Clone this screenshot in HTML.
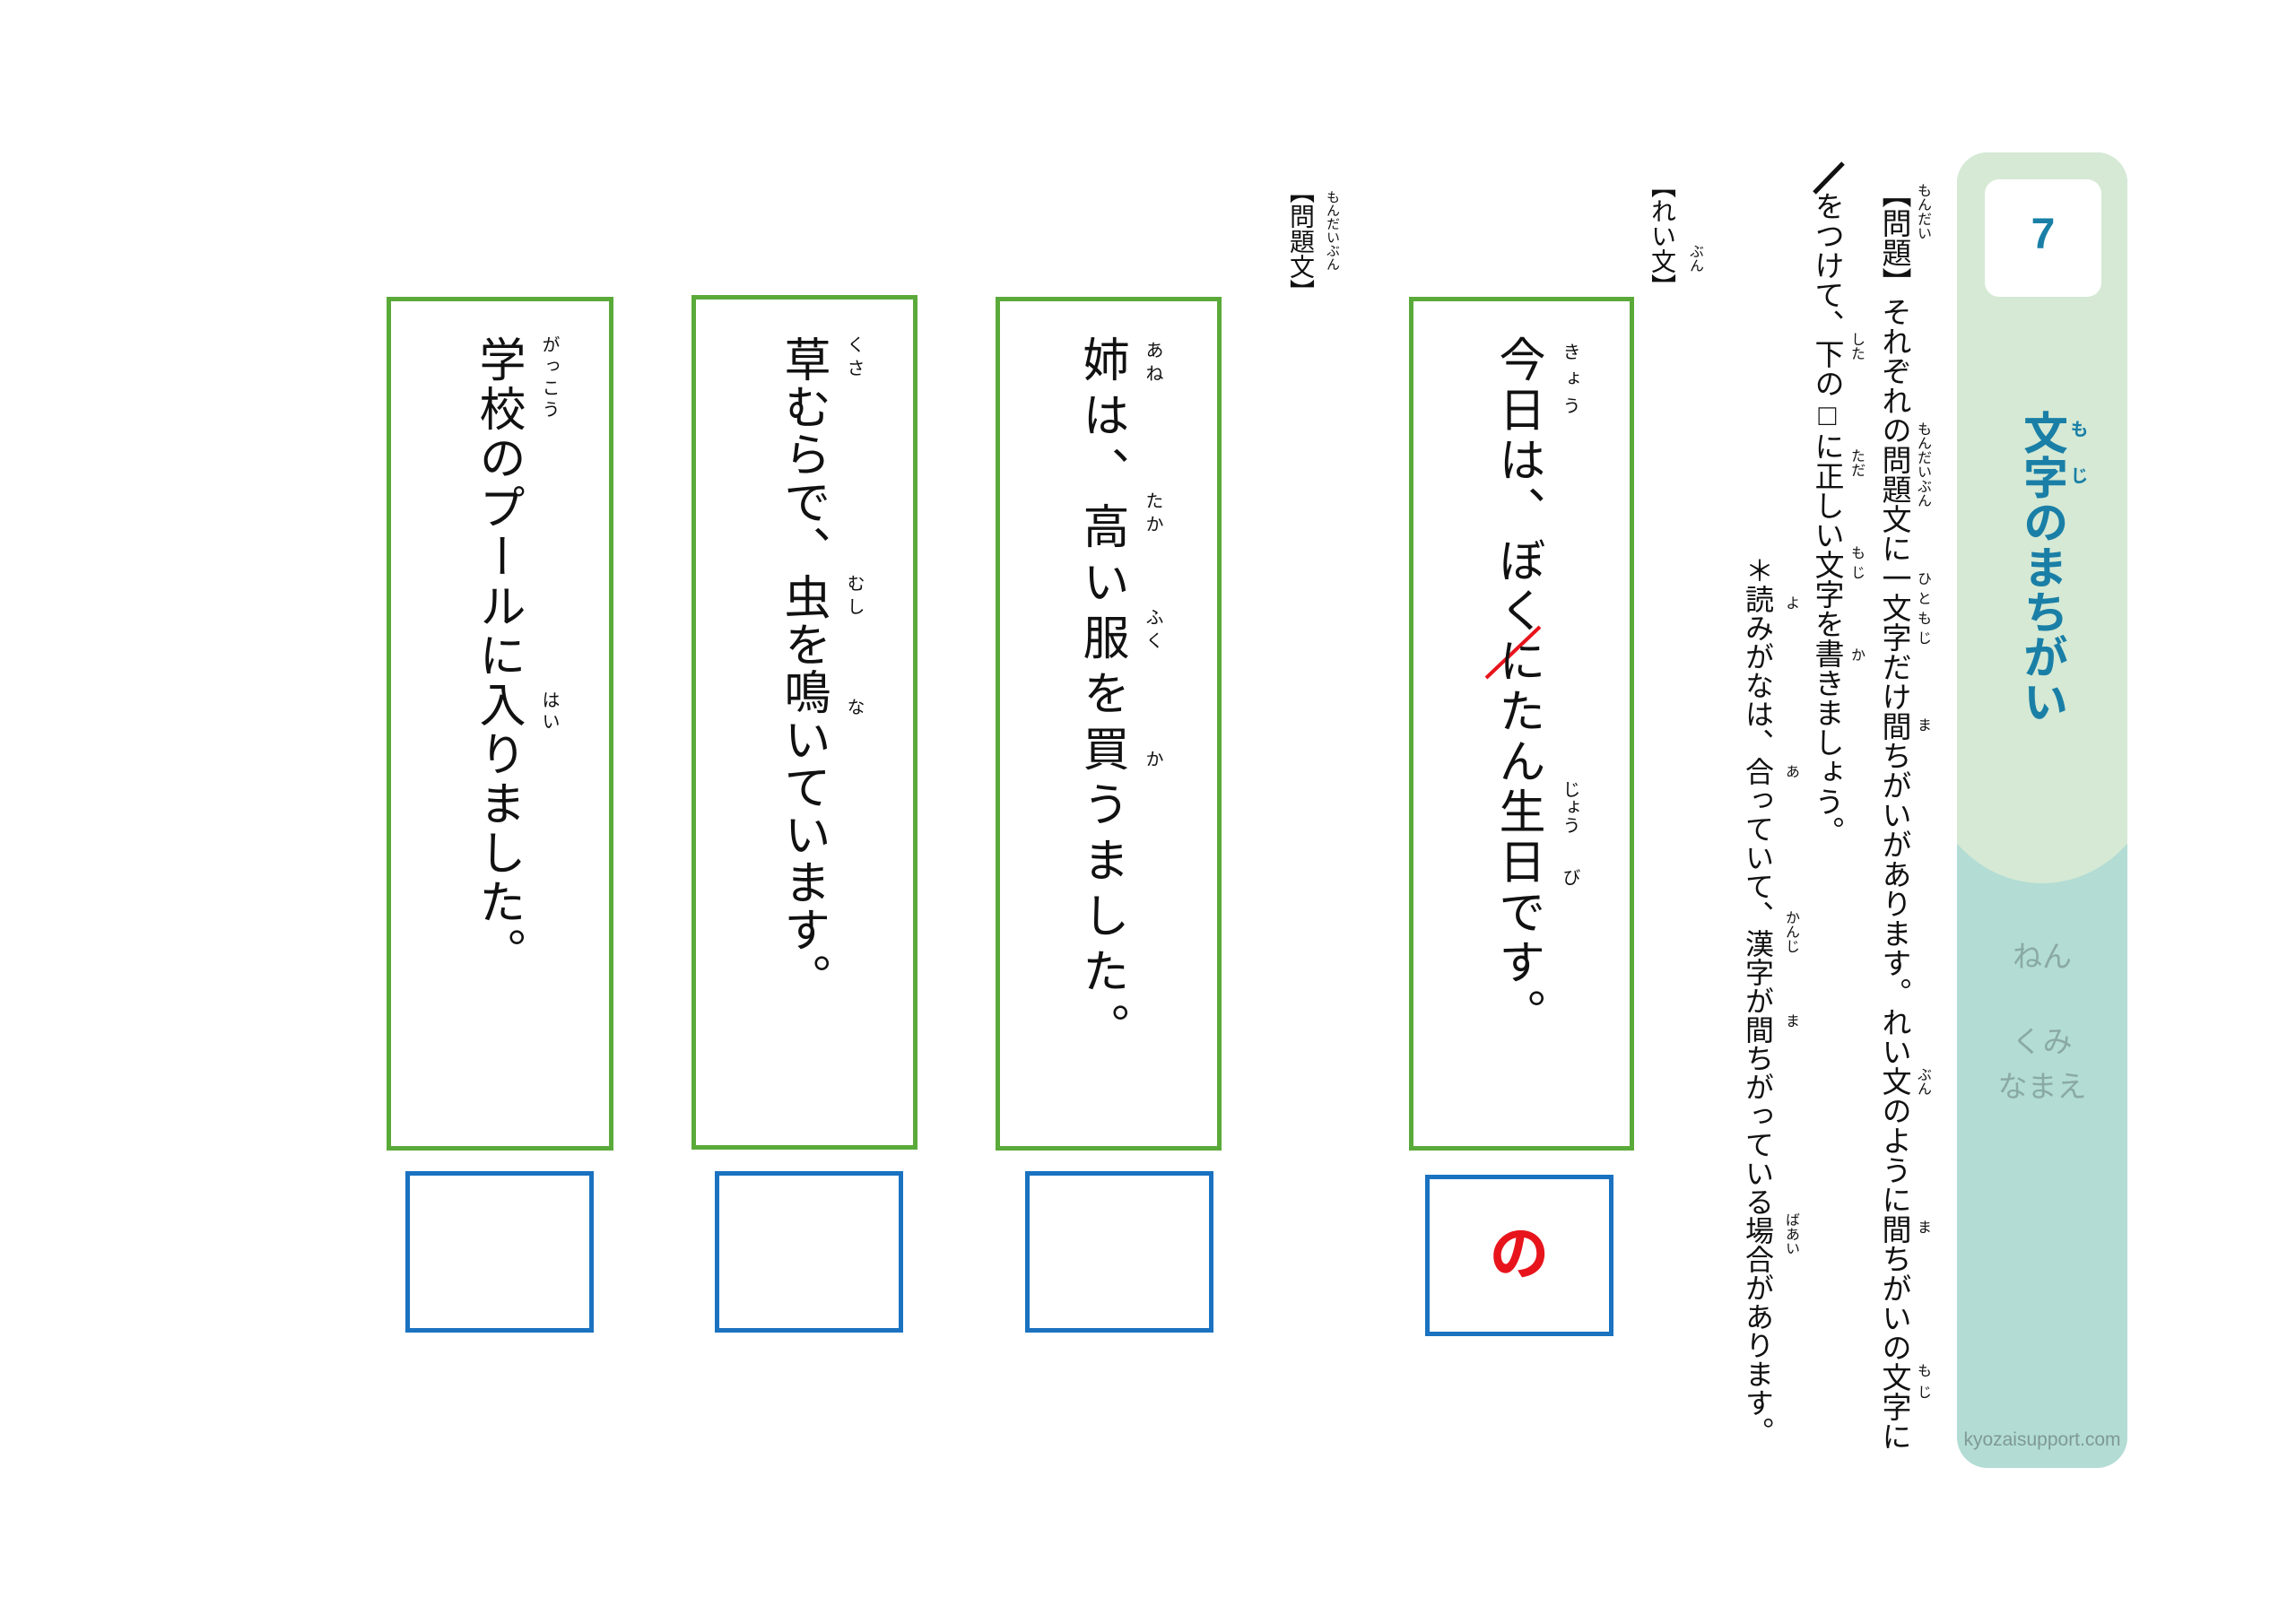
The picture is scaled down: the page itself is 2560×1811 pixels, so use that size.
<!DOCTYPE html>
<html><head><meta charset="utf-8">
<style>
html,body{margin:0;padding:0;background:#fff;}
body{width:2560px;height:1811px;position:relative;overflow:hidden;font-family:"Liberation Sans","Noto Sans CJK JP",sans-serif;color:#111;}
.v{position:absolute;writing-mode:vertical-rl;white-space:nowrap;line-height:1;}
.f{font-size:18px;}
.g{position:absolute;border:5px solid #5aaa3a;box-sizing:border-box;}
.b{position:absolute;border:5px solid #1a72c0;box-sizing:border-box;}
</style></head><body>

<div style="position:absolute;left:2182px;top:170px;width:190px;height:1467px;border-radius:34px;background:#b2dcd4;overflow:hidden;">
  <div style="position:absolute;left:-35px;top:-300px;width:260px;height:1115px;background:#d5e9d5;border-radius:0 0 50% 50% / 0 0 140px 140px;"></div>
  <div style="position:absolute;left:31px;top:30px;width:130px;height:131px;background:#fff;border-radius:16px;"></div>
  <div style="position:absolute;left:31px;top:68px;width:130px;text-align:center;font-size:48px;font-weight:bold;color:#1a7fa6;line-height:1;">7</div>
  <div class="v" style="left:70px;top:287px;font-size:50px;font-weight:bold;color:#1a7fa6;">文字のまちがい</div>
  <div class="v" style="left:124px;top:298px;font-size:20px;font-weight:bold;color:#1a7fa6;letter-spacing:32px;">もじ</div>
  <div style="position:absolute;left:0;width:190px;top:880px;text-align:center;font-size:33px;color:#8aa9a5;line-height:1;">ねん</div>
  <div style="position:absolute;left:0;width:190px;top:975px;text-align:center;font-size:33px;color:#8aa9a5;line-height:1;">くみ</div>
  <div style="position:absolute;left:0;width:190px;top:1025px;text-align:center;font-size:33px;color:#8aa9a5;line-height:1;">なまえ</div>
  <div style="position:absolute;left:0;width:190px;top:1425px;text-align:center;font-size:21px;color:#7f9996;line-height:1;">kyozaisupport.com</div>
</div>

<div class="v" style="left:2096px;top:199px;font-size:33px;">【問題】それぞれの問題文に一文字だけ間ちがいがあります。れい文のように間ちがいの文字に</div>
<div class="v f" style="left:2135px;top:204px;font-size:16px;">もんだい</div>
<div class="v f" style="left:2135px;top:470px;font-size:16px;">もんだいぶん</div>
<div class="v f" style="left:2135px;top:637px;font-size:16px;letter-spacing:6px;">ひともじ</div>
<div class="v f" style="left:2135px;top:800px;font-size:16px;">ま</div>
<div class="v f" style="left:2135px;top:1190px;font-size:16px;">ぶん</div>
<div class="v f" style="left:2135px;top:1360px;font-size:16px;">ま</div>
<div class="v f" style="left:2135px;top:1520px;font-size:16px;letter-spacing:8px;">もじ</div>

<svg style="position:absolute;left:0;top:0" width="2560" height="1811">
  <line x1="2023" y1="215" x2="2055" y2="182" stroke="#111" stroke-width="5"/>
  <line x1="1657" y1="756" x2="1717" y2="699" stroke="#e8141c" stroke-width="4"/>
</svg>
<div class="v" style="left:2021px;top:213px;font-size:33px;">をつけて、下の□に正しい文字を書きましょう。</div>
<div class="v" style="left:2061px;top:370px;font-size:16px;">した</div>
<div class="v" style="left:2061px;top:500px;font-size:16px;">ただ</div>
<div class="v" style="left:2061px;top:608px;font-size:16px;letter-spacing:6px;">もじ</div>
<div class="v" style="left:2061px;top:722px;font-size:16px;">か</div>

<div class="v" style="left:1944px;top:620px;font-size:32px;">＊読みがなは、合っていて、漢字が間ちがっている場合があります。</div>
<div class="v" style="left:1988px;top:664px;font-size:16px;">よ</div>
<div class="v" style="left:1988px;top:852px;font-size:16px;">あ</div>
<div class="v" style="left:1988px;top:1015px;font-size:16px;">かんじ</div>
<div class="v" style="left:1988px;top:1130px;font-size:16px;">ま</div>
<div class="v" style="left:1988px;top:1352px;font-size:16px;">ばあい</div>

<div class="v" style="left:1839px;top:193px;font-size:28px;">【れい文】</div>
<div class="v" style="left:1881px;top:272px;font-size:16px;">ぶん</div>
<div class="v" style="left:1436px;top:199px;font-size:28px;">【問題文】</div>
<div class="v" style="left:1478px;top:212px;font-size:15px;">もんだいぶん</div>

<div class="g" style="left:1571px;top:331px;width:251px;height:952px;"></div>
<div class="g" style="left:1110px;top:331px;width:252px;height:952px;"></div>
<div class="g" style="left:771px;top:329px;width:252px;height:953px;"></div>
<div class="g" style="left:431px;top:331px;width:253px;height:952px;"></div>

<div class="b" style="left:1589px;top:1310px;width:210px;height:180px;"></div>
<div class="b" style="left:1143px;top:1306px;width:210px;height:180px;"></div>
<div class="b" style="left:797px;top:1306px;width:210px;height:180px;"></div>
<div class="b" style="left:452px;top:1306px;width:210px;height:180px;"></div>
<div style="position:absolute;left:1589px;top:1365px;width:210px;text-align:center;font-size:66px;font-weight:bold;color:#e8141c;line-height:1;">の</div>

<div class="v" style="left:1666px;top:374px;font-size:52px;letter-spacing:4px;">今日は、ぼくにたん生日です。</div>
<div class="v" style="left:1740px;top:382px;font-size:20px;letter-spacing:10px;">きょう</div>
<div class="v" style="left:1740px;top:870px;font-size:20px;">じょう</div>
<div class="v" style="left:1740px;top:968px;font-size:20px;">び</div>

<div class="v" style="left:1202px;top:374px;font-size:52px;letter-spacing:10px;">姉は、高い服を買うました。</div>
<div class="v" style="left:1275px;top:380px;font-size:20px;letter-spacing:6px;">あね</div>
<div class="v" style="left:1275px;top:548px;font-size:20px;letter-spacing:6px;">たか</div>
<div class="v" style="left:1275px;top:678px;font-size:20px;letter-spacing:6px;">ふく</div>
<div class="v" style="left:1275px;top:836px;font-size:20px;">か</div>

<div class="v" style="left:869px;top:374px;font-size:52px;letter-spacing:1px;">草むらで、虫を鳴いています。</div>
<div class="v" style="left:942px;top:374px;font-size:20px;letter-spacing:6px;">くさ</div>
<div class="v" style="left:942px;top:640px;font-size:20px;letter-spacing:6px;">むし</div>
<div class="v" style="left:942px;top:778px;font-size:20px;">な</div>

<div class="v" style="left:529px;top:374px;font-size:52px;letter-spacing:3px;">学校のプールに入りました。</div>
<div class="v" style="left:602px;top:374px;font-size:20px;letter-spacing:4px;">がっこう</div>
<div class="v" style="left:602px;top:770px;font-size:20px;letter-spacing:4px;">はい</div>

</body></html>
